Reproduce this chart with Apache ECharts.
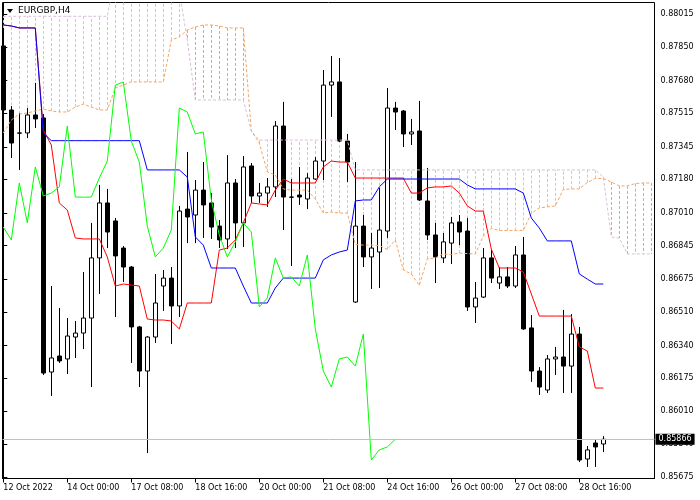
<!DOCTYPE html>
<html><head><meta charset="utf-8">
<script src="https://cdn.jsdelivr.net/npm/echarts@6/dist/echarts.min.js"></script>
<style>html,body{margin:0;padding:0;background:#fff}#c{width:700px;height:500px}</style>
</head><body><div id="c"></div>
<script>
const symbolName = 'EURGBP,H4';
const xTickIndex = [0, 8, 16, 24, 32, 40, 48, 56, 64, 72];
const xTickLabels = ['12 Oct 2022','14 Oct 00:00','17 Oct 08:00','18 Oct 16:00','20 Oct 00:00','21 Oct 08:00','24 Oct 16:00','26 Oct 00:00','27 Oct 08:00','28 Oct 16:00'];
const yTickValues = [0.88015,0.87850,0.87680,0.87515,0.87345,0.87180,0.87010,0.86845,0.86675,0.86510,0.86340,0.86175,0.86010,0.85840,0.85675];
const lastPrice = 0.85866;

const opens = [0.87855,0.87531,0.87415,0.87415,0.87506,0.87491,0.86206,0.86287,0.86272,0.86383,
0.86403,0.86479,0.86783,0.87061,0.86970,0.86833,0.86737,0.86434,0.86211,0.86383,
0.86641,0.86681,0.86540,0.87030,0.87000,0.87126,0.87061,0.86944,0.86879,0.87162,
0.86960,0.87248,0.87096,0.87111,0.87142,0.87450,0.87091,0.87101,0.87081,0.87182,
0.87273,0.87657,0.87673,0.87374,0.86560,0.86944,0.86788,0.86813,0.86919,0.87541,
0.87526,0.87410,0.87425,0.87071,0.86899,0.86783,0.86858,0.86965,0.86919,0.86535,
0.86585,0.86783,0.86656,0.86687,0.86641,0.86798,0.86429,0.86211,0.86115,0.86272,
0.86282,0.86236,0.86398,0.85766,0.85847,0.85842];
const closes = [0.87531,0.87364,0.87414,0.87506,0.87486,0.86201,0.86277,0.86262,0.86388,0.86403,
0.86479,0.86783,0.87061,0.86914,0.86793,0.86737,0.86434,0.86211,0.86383,0.86555,
0.86681,0.86540,0.87020,0.86990,0.87126,0.87051,0.86939,0.86874,0.87162,0.86960,
0.87243,0.87096,0.87111,0.87142,0.87450,0.87091,0.87090,0.87091,0.87187,0.87273,
0.87657,0.87673,0.87374,0.87268,0.86944,0.86788,0.86833,0.86924,0.87541,0.87521,
0.87410,0.87420,0.87076,0.86899,0.86788,0.86864,0.86960,0.86914,0.86535,0.86580,
0.86783,0.86681,0.86687,0.86641,0.86798,0.86424,0.86211,0.86130,0.86272,0.86282,
0.86236,0.86398,0.85761,0.85812,0.85827,0.85866];
const highs = [0.87946,0.87551,0.87516,0.87541,0.87668,0.87511,0.86641,0.86530,0.86479,0.86464,
0.86712,0.86960,0.87152,0.87132,0.86985,0.86843,0.86742,0.86439,0.86388,0.86702,
0.86722,0.86737,0.87046,0.87319,0.87177,0.87268,0.87111,0.86975,0.87303,0.87182,
0.87298,0.87263,0.87162,0.87187,0.87475,0.87572,0.87182,0.87243,0.87212,0.87293,
0.87733,0.87804,0.87794,0.87410,0.87268,0.87000,0.86909,0.87137,0.87642,0.87572,
0.87531,0.87486,0.87577,0.87238,0.86960,0.86909,0.86990,0.87000,0.86985,0.86661,
0.86833,0.86823,0.86737,0.86737,0.86843,0.86889,0.86494,0.86231,0.86292,0.86333,
0.86520,0.86499,0.86434,0.85832,0.85867,0.85882];
const lows = [0.87349,0.87288,0.87228,0.87389,0.87440,0.86191,0.86085,0.86252,0.86196,0.86277,
0.86322,0.86130,0.86601,0.86833,0.86484,0.86661,0.86252,0.86130,0.85796,0.86353,
0.86515,0.86348,0.86484,0.86858,0.86858,0.86884,0.86879,0.86833,0.86828,0.86833,
0.86838,0.87061,0.87061,0.87041,0.87091,0.86924,0.86742,0.87051,0.87030,0.87177,
0.87177,0.87496,0.87369,0.87167,0.86555,0.86737,0.86626,0.86631,0.86884,0.87430,
0.87344,0.87354,0.87071,0.86874,0.86656,0.86757,0.86752,0.86848,0.86515,0.86454,
0.86580,0.86656,0.86626,0.86631,0.86631,0.86419,0.86156,0.86090,0.86100,0.86191,
0.86100,0.86100,0.85751,0.85726,0.85726,0.85801];

const tenkan = [0.87961,0.87956,0.87946,0.87946,0.87946,0.87430,0.87354,0.87061,0.87025,0.86884,
0.86879,0.86879,0.86879,0.86788,0.86641,0.86651,0.86646,0.86641,0.86474,0.86469,
0.86469,0.86464,0.86424,0.86555,0.86555,0.86555,0.86555,0.86823,0.86833,0.86874,
0.86960,0.87061,0.87056,0.87051,0.87126,0.87182,0.87162,0.87162,0.87162,0.87162,
0.87243,0.87273,0.87268,0.87268,0.87187,0.87187,0.87187,0.87187,0.87187,0.87187,
0.87187,0.87111,0.87111,0.87137,0.87142,0.87142,0.87147,0.87111,0.87046,0.87020,
0.87020,0.86828,0.86732,0.86732,0.86732,0.86712,0.86601,0.86489,0.86489,0.86489,
0.86489,0.86489,0.86333,0.86312,0.86125,0.86125];
const kijun = [0.87961,0.87956,0.87946,0.87946,0.87946,0.87415,0.87376,0.87376,0.87376,0.87376,
0.87376,0.87376,0.87376,0.87376,0.87376,0.87376,0.87376,0.87376,0.87228,0.87228,
0.87228,0.87228,0.87228,0.87192,0.86889,0.86848,0.86732,0.86732,0.86732,0.86732,
0.86641,0.86555,0.86555,0.86555,0.86631,0.86681,0.86681,0.86681,0.86681,0.86681,
0.86773,0.86798,0.86813,0.86823,0.87071,0.87076,0.87076,0.87142,0.87182,0.87182,
0.87182,0.87182,0.87182,0.87182,0.87182,0.87182,0.87182,0.87182,0.87152,0.87132,
0.87132,0.87132,0.87132,0.87132,0.87132,0.87111,0.86985,0.86934,0.86869,0.86869,
0.86869,0.86869,0.86702,0.86676,0.86651,0.86651];
const chikou = [0.86939,0.86874,0.87162,0.86960,0.87243,0.87096,0.87111,0.87142,0.87450,0.87091,
0.87090,0.87091,0.87187,0.87273,0.87657,0.87673,0.87374,0.87268,0.86944,0.86788,
0.86833,0.86924,0.87541,0.87521,0.87410,0.87420,0.87076,0.86899,0.86788,0.86864,
0.86960,0.86914,0.86535,0.86580,0.86783,0.86681,0.86687,0.86641,0.86798,0.86424,
0.86211,0.86130,0.86272,0.86282,0.86236,0.86398,0.85761,0.85812,0.85827,0.85866];
const senkouA = [0.87415,0.87480,0.87511,0.87516,0.87526,0.87536,0.87526,0.87521,0.87521,0.87546,
0.87561,0.87546,0.87531,0.87531,0.87642,0.87657,0.87673,0.87673,0.87673,0.87673,
0.87673,0.87885,0.87900,0.87936,0.87951,0.87961,0.87961,0.87956,0.87946,0.87946,
0.87946,0.87425,0.87364,0.87218,0.87202,0.87132,0.87126,0.87126,0.87126,0.87081,
0.87010,0.87015,0.87010,0.87010,0.86851,0.86848,0.86848,0.86846,0.86826,0.86874,
0.86722,0.86702,0.86644,0.86778,0.86783,0.86803,0.86800,0.86808,0.86805,0.86803,
0.86894,0.86932,0.86922,0.86922,0.86922,0.86922,0.87008,0.87036,0.87041,0.87046,
0.87129,0.87132,0.87132,0.87164,0.87185,0.87185,0.87167,0.87147,0.87147,0.87159,
0.87162,0.87162];
const senkouB = [0.88005,0.88005,0.88005,0.88005,0.88005,0.88005,0.88005,0.88005,0.88005,0.88005,
0.88005,0.88005,0.88005,0.88005,0.88220,0.88220,0.88220,0.88220,0.88220,0.88220,
0.88220,0.88220,0.88130,0.87885,0.87582,0.87582,0.87582,0.87582,0.87582,0.87582,
0.87582,0.87425,0.87379,0.87379,0.87379,0.87379,0.87379,0.87379,0.87379,0.87379,
0.87379,0.87379,0.87379,0.87379,0.87228,0.87228,0.87228,0.87228,0.87228,0.87228,
0.87228,0.87228,0.87228,0.87228,0.87228,0.87228,0.87228,0.87228,0.87228,0.87228,
0.87228,0.87228,0.87228,0.87228,0.87228,0.87228,0.87228,0.87228,0.87228,0.87228,
0.87228,0.87228,0.87228,0.87228,0.87228,0.87192,0.86889,0.86884,0.86803,0.86803,
0.86803,0.86803];

const FONT = 'DejaVu Sans';
const chart = echarts.init(document.getElementById('c'), null, {renderer: 'canvas'});
const pair = arr => arr.map((v, i) => [i, v]);
const candleData = opens.map((o, i) => [i, o, closes[i], lows[i], highs[i]]);
const hatchData = senkouA.map((a, i) => [i, a, senkouB[i]]);

function lineSeries(name, arr, color, dashed, z) {
  return {
    type: 'line', name, data: pair(arr), showSymbol: false, symbol: 'none', z,
    clip: true, silent: true,
    lineStyle: {color, width: 1, type: dashed ? [3, 2] : 'solid'}
  };
}

chart.setOption({
  animation: false,
  grid: {left: 2.5, right: 45.5, top: 2.5, bottom: 21.5, show: true, borderColor: '#000', borderWidth: 1, backgroundColor: 'transparent'},
  xAxis: {
    type: 'value', min: -0.1, max: 81.4,
    splitLine: {show: false},
    axisLine: {show: true, lineStyle: {color: '#000', width: 1}},
    axisTick: {show: true, customValues: xTickIndex, length: 4, lineStyle: {color: '#000'}},
    axisLabel: {
      customValues: xTickIndex, hideOverlap: false,
      formatter: v => xTickLabels[xTickIndex.indexOf(Math.round(v))] || '',
      align: 'left', color: '#000', fontFamily: FONT, fontSize: 8, margin: 5
    }
  },
  yAxis: {
    type: 'value', position: 'right', min: 0.856675, max: 0.880747,
    splitLine: {show: false},
    axisLine: {show: true, lineStyle: {color: '#000', width: 1}},
    axisTick: {show: true, customValues: yTickValues, length: 4, lineStyle: {color: '#000'}},
    axisLabel: {
      customValues: yTickValues, hideOverlap: false,
      formatter: v => v.toFixed(5), color: '#000', fontFamily: FONT, fontSize: 8, margin: 6
    }
  },
  graphic: [
    {type: 'polygon', z: 100, shape: {points: [[7, 9], [13, 9], [10, 13]]}, style: {fill: '#000'}},
    {type: 'text', z: 100, x: 18, y: 10.5, style: {text: symbolName, fontFamily: FONT, fontSize: 9, fill: '#000', verticalAlign: 'middle'}}
  ],
  series: [
    {
      type: 'line', name: 'bid', z: 1, silent: true, data: [], showSymbol: false,
      markLine: {
        silent: true, symbol: ['none', 'none'], animation: false, precision: 5,
        lineStyle: {color: '#c0c0c0', type: 'solid', width: 1},
        label: {show: true, position: 'end', formatter: lastPrice.toFixed(5), color: '#fff', backgroundColor: '#000',
          padding: [2, 3, 1, 3], fontFamily: FONT, fontSize: 8, distance: 1},
        emphasis: {disabled: true},
        data: [{yAxis: lastPrice}]
      }
    },
    {
      type: 'custom', name: 'kumo', z: 1, silent: true,
      data: hatchData, encode: {x: 0, y: [1, 2]},
      renderItem: function (params, api) {
        const i = api.value(0), a = api.value(1), b = api.value(2);
        const cs = params.coordSys;
        const p1 = api.coord([i, a]), p2 = api.coord([i, b]);
        const top = cs.y, bot = cs.y + cs.height;
        const y1 = Math.min(Math.max(p1[1], top), bot);
        const y2 = Math.min(Math.max(p2[1], top), bot);
        const x = Math.round(p1[0]) + 0.5;
        return {
          type: 'line', shape: {x1: x, y1: y1, x2: x, y2: y2},
          style: {stroke: a > b ? '#F4A460' : '#D8BFD8', lineWidth: 1, lineDash: [3, 2]}
        };
      }
    },
    {
      type: 'candlestick', name: symbolName, z: 2, silent: true,
      data: candleData, encode: {x: 0, y: [1, 2, 3, 4]},
      barWidth: 5,
      itemStyle: {color: '#ffffff', color0: '#000000', borderColor: '#000000', borderColor0: '#000000', borderWidth: 1}
    },
    lineSeries('Senkou A', senkouA, '#F4A460', true, 3),
    lineSeries('Senkou B', senkouB, '#D8BFD8', true, 3),
    lineSeries('Tenkan', tenkan, '#FF0000', false, 4),
    lineSeries('Kijun', kijun, '#0000FF', false, 4),
    lineSeries('Chikou', chikou, '#00FF00', false, 4)
  ]
});
</script>
</body></html>
